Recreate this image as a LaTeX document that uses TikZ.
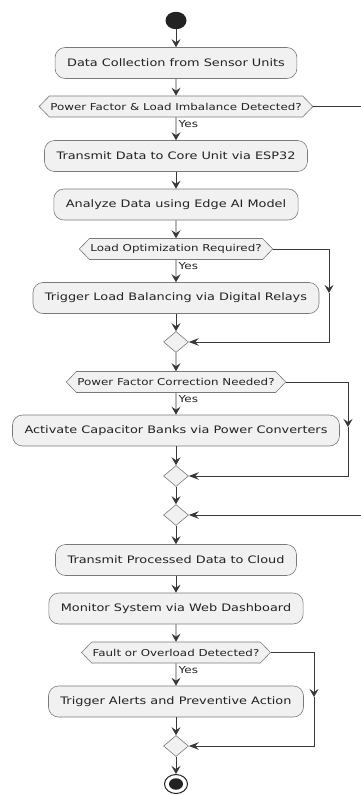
\documentclass[tikz,border=0pt]{standalone}
\usepackage{fontspec}
\setmainfont{DejaVu Sans}[FakeStretch=1.25]
\usetikzlibrary{arrows.meta,shapes.geometric,shapes.symbols,calc}
\definecolor{boxfill}{HTML}{F1F1F1}
\definecolor{boxline}{HTML}{7A7A7A}
\definecolor{arrowc}{HTML}{383838}
\definecolor{dotc}{HTML}{222222}
\definecolor{txt}{HTML}{222222}
\begin{document}
\begin{tikzpicture}[x=1pt,y=-1pt,
  act/.style={rectangle, rounded corners=10pt, draw=boxline, fill=boxfill, line width=0.6pt,
    minimum height=31pt, inner xsep=12pt, inner ysep=0pt, text=txt,
    font=\fontsize{10.3}{12}\selectfont},
  dec/.style={signal, signal to=west and east, signal pointer angle=92, draw=boxline,
    fill=boxfill, line width=0.6pt, minimum height=21pt, inner xsep=1pt, inner ysep=0pt,
    text=txt, font=\fontsize{9.5}{11}\selectfont},
  merge/.style={diamond, draw=boxline, fill=boxfill, line width=0.6pt,
    minimum width=25pt, minimum height=21pt, inner sep=0pt},
  flow/.style={draw=arrowc, line width=0.9pt, -{Stealth[length=8pt,width=9pt,inset=3pt]}},
  flowh/.style={draw=arrowc, line width=0.9pt, -{Stealth[length=10pt,width=7.5pt,inset=3.5pt]}},
  plain/.style={draw=arrowc, line width=0.9pt},
  yes/.style={font=\fontsize{9.6}{11}\selectfont, anchor=north west, inner sep=0.5pt, text=txt},
]
\useasboundingbox (0,0) rectangle (361,795);

\node[ellipse, fill=dotc, minimum width=21pt, minimum height=17.5pt, inner sep=0pt] (start) at (176,20.5) {};
\node[act] (n1) at (176,63) {Data Collection from Sensor Units};
\node[dec] (d1) at (176,106.5) {Power Factor \& Load Imbalance Detected?};
\node[act] (n2) at (176,156) {Transmit Data to Core Unit via ESP32};
\node[act] (n3) at (176,204.5) {Analyze Data using Edge AI Model};
\node[dec] (d2) at (176,249) {Load Optimization Required?};
\node[act] (n4) at (176,298) {Trigger Load Balancing via Digital Relays};
\node[merge] (m1) at (176,342) {};
\node[dec] (d3) at (176,382) {Power Factor Correction Needed?};
\node[act] (n5) at (176,430.5) {Activate Capacitor Banks via Power Converters};
\node[merge] (m2) at (176,476) {};
\node[merge] (m3) at (176,515) {};
\node[act] (n6) at (176,560) {Transmit Processed Data to Cloud};
\node[act] (n7) at (176,608.5) {Monitor System via Web Dashboard};
\node[dec] (d4) at (176,652.5) {Fault or Overload Detected?};
\node[act] (n8) at (176,701.5) {Trigger Alerts and Preventive Action};
\node[merge] (m4) at (176,746) {};
\node[ellipse, draw=dotc, line width=1pt, fill=white, minimum width=23pt, minimum height=19pt, inner sep=0pt] (end) at (176,784) {};
\node[ellipse, fill=dotc, minimum width=14pt, minimum height=11.5pt, inner sep=0pt] (endin) at (end.center) {};

\coordinate (r1) at (361,106.5);
\coordinate (r2) at (361,515);
\coordinate (c2) at (329,293);
\coordinate (c3) at (348,427);
\coordinate (c4) at (314,697);

\draw[flow] (start) -- (n1);
\draw[flow] (n1) -- (d1);
\draw[flow] (d1) -- (n2);
\draw[flow] (n2) -- (n3);
\draw[flow] (n3) -- (d2);
\draw[flow] (d2) -- (n4);
\draw[flow] (n4) -- (m1);
\draw[flow] (m1) -- (d3);
\draw[flow] (d3) -- (n5);
\draw[flow] (n5) -- (m2);
\draw[flow] (m2) -- (m3);
\draw[flow] (m3) -- (n6);
\draw[flow] (n6) -- (n7);
\draw[flow] (n7) -- (d4);
\draw[flow] (d4) -- (n8);
\draw[flow] (n8) -- (m4);
\draw[flow] (m4) -- (end);

\draw[plain] (d1.east) -- (r1);
\draw[flowh] (r2) -- (m3.east);

\draw[flow] (d2.east) -| (c2);
\draw[flowh] (c2) |- (m1.east);
\draw[flow] (d3.east) -| (c3);
\draw[flowh] (c3) |- (m2.east);
\draw[flow] (d4.east) -| (c4);
\draw[flowh] (c4) |- (m4.east);

\node[yes] at ($(d1.south)+(2,2)$) {Yes};
\node[yes] at ($(d2.south)+(2,2)$) {Yes};
\node[yes] at ($(d3.south)+(2,2)$) {Yes};
\node[yes] at ($(d4.south)+(2,2)$) {Yes};
\end{tikzpicture}
\end{document}
